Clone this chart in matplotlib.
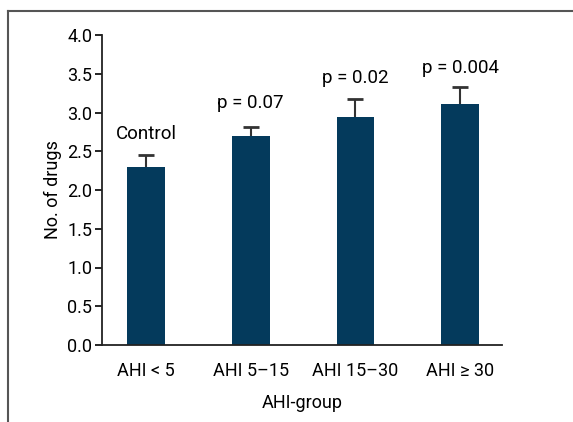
import matplotlib
matplotlib.use('Agg')
import matplotlib.pyplot as plt
import numpy as np
from matplotlib.lines import Line2D

groups = ['AHI < 5', 'AHI 5\u201315', 'AHI 15\u201330', 'AHI \u2265 30']
means = [2.30, 2.70, 2.94, 3.11]
errs = [0.15, 0.11, 0.23, 0.22]
notes = ['Control', 'p = 0.07', 'p = 0.02', 'p = 0.004']
note_y = [2.72, 3.12, 3.45, 3.57]

plt.rcParams['font.family'] = ['Roboto', 'DejaVu Sans']
plt.rcParams['font.size'] = 13

fig = plt.figure(figsize=(5.73, 4.22), dpi=100)
ax = fig.add_axes([102 / 573, 1 - 345 / 422, 400 / 573, 310 / 422])

x = np.arange(len(groups))
tops = np.array(means) + np.array(errs)
# upper-only error bars, drawn behind the bars
ax.vlines(x, means, tops, color='#333333', lw=1.5, zorder=1)
ax.plot(x, tops, ls='none', marker='_', ms=12, mew=2, color='#333333', zorder=1)
ax.bar(x, means, width=0.36, color='#043a5c', zorder=2)

for xi, txt, ty in zip(x, notes, note_y):
    ax.text(xi, ty, txt, ha='center', va='center', fontsize=13.5)

ax.set_xlim(-0.42, 3.4)
ax.set_ylim(0, 4.0)
ax.set_yticks([0, 0.5, 1.0, 1.5, 2.0, 2.5, 3.0, 3.5, 4.0])
ax.set_yticklabels(['%.1f' % v for v in ax.get_yticks()])
ax.set_xticks(x)
ax.set_xticklabels(groups)
ax.tick_params(axis='x', length=0, pad=12)
ax.tick_params(axis='y', length=5, width=1.2, pad=2)
for s in ['top', 'right']:
    ax.spines[s].set_visible(False)
for s in ['left', 'bottom']:
    ax.spines[s].set_linewidth(1.3)
    ax.spines[s].set_color('#222222')
ax.set_ylabel('No. of drugs', labelpad=4)
ax.set_xlabel('AHI-group', labelpad=10)

# outer frame (left and top only)
fig.add_artist(Line2D([7.5 / 573, 7.5 / 573], [0, 1 - 11 / 422], color='#555555', lw=1.5))
fig.add_artist(Line2D([7.5 / 573, 1], [1 - 11 / 422, 1 - 11 / 422], color='#555555', lw=1.5))

fig.savefig('out.png', dpi=100)
